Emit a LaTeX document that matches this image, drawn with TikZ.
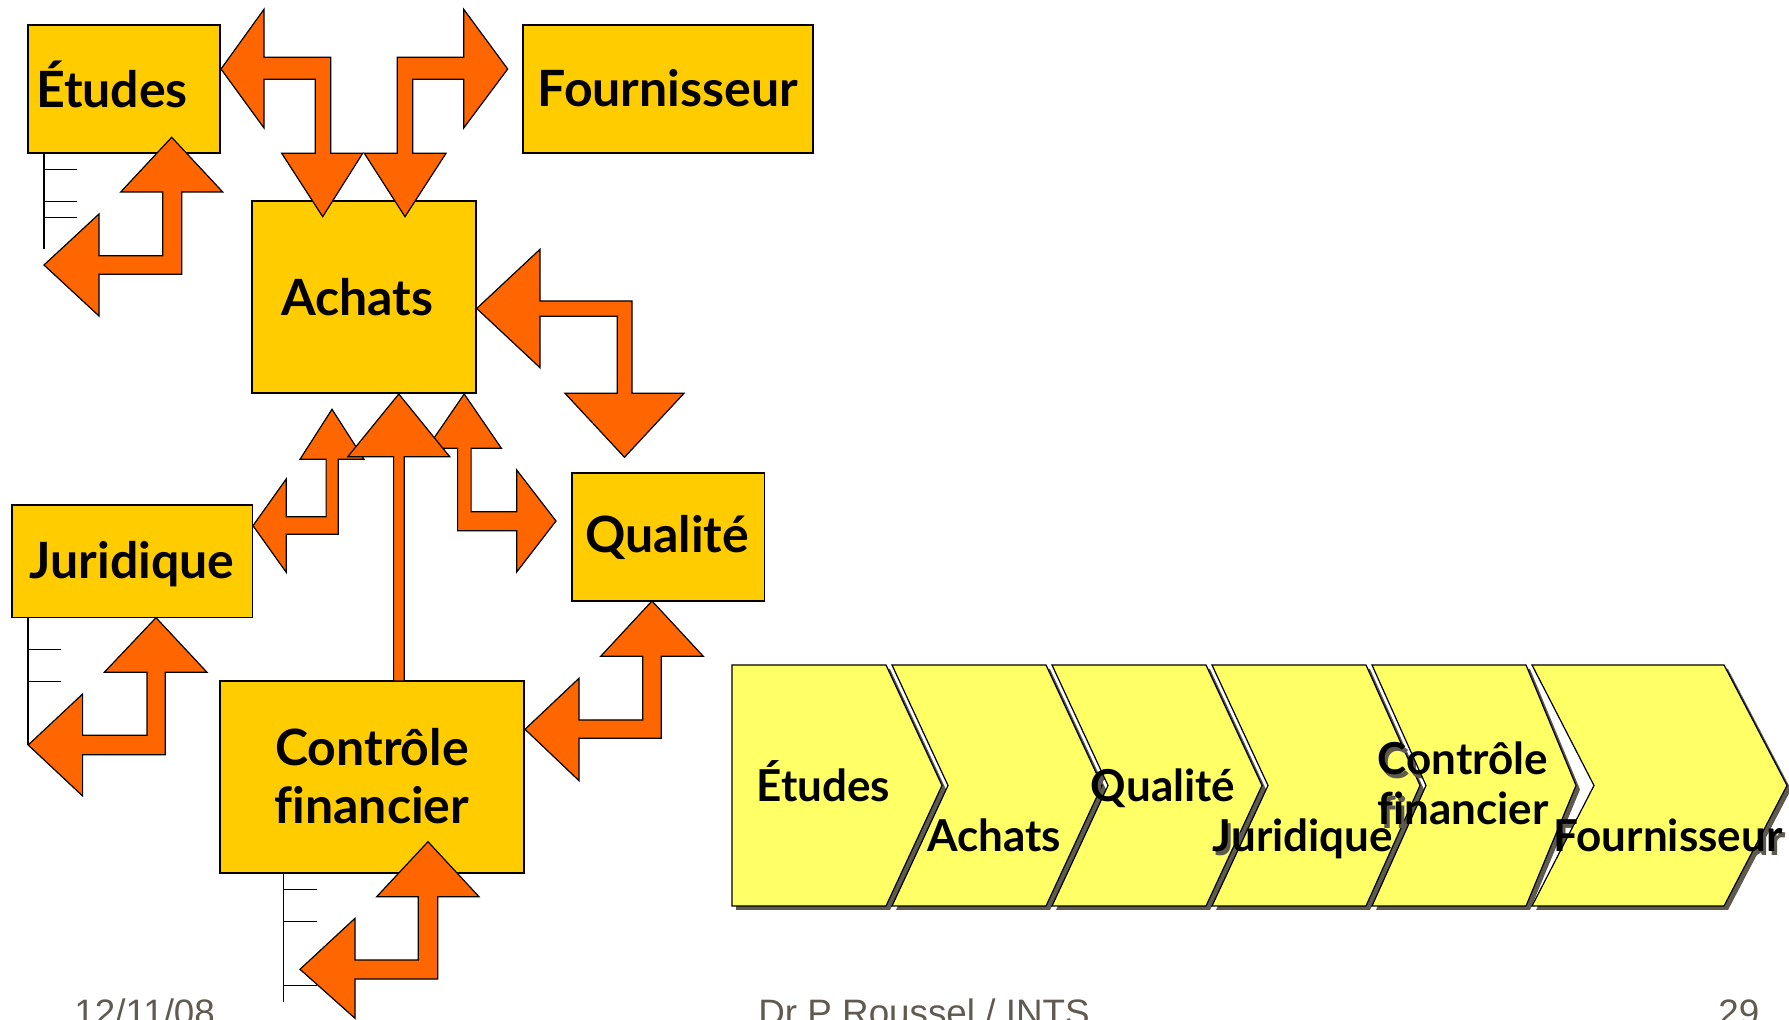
\documentclass[tikz,border=0pt]{standalone}
\usepackage{fontspec}
\setmainfont{Lato}[Ligatures=CommonOff]
\newfontfamily\footfont{Liberation Sans}
\definecolor{boxgold}{HTML}{FFCC00}
\definecolor{arroworange}{HTML}{FF6600}
\definecolor{chevyellow}{HTML}{FFFF66}
\definecolor{shadowgray}{HTML}{5F5A50}
\definecolor{footgray}{HTML}{605A50}

\begin{document}
\begin{tikzpicture}[x=0.5pt, y=-0.5pt,
    unit/.style={draw=black, fill=boxgold, line width=0.8pt},
    flow/.style={draw=black, fill=arroworange, line width=0.6pt, line join=miter},
    tree/.style={draw=black, line width=0.7pt},
    lbl/.style={font=\bfseries\fontsize{25}{29}\selectfont, inner sep=0pt, anchor=base, align=center},
    chev/.style={draw=black, fill=chevyellow, line width=0.6pt},
    clbl/.style={font=\bfseries\fontsize{22}{25}\selectfont, inner sep=0pt, anchor=base, align=center},
    foot/.style={font=\footfont\fontsize{18.4}{22}\selectfont, text=footgray, inner sep=0pt, anchor=base west}]

    % Page frame
    \clip (0,0) rectangle (1789,1020);

    % Sub-item trees under the services
    \draw[tree] (44,153) -- (44,249);
    \foreach \t in {169.3, 201.3, 217.3} \draw[tree] (44,\t) -- (76.7,\t);
    \draw[tree] (28,617.7) -- (28,745);
    \foreach \t in {649.3, 681.3} \draw[tree] (28,\t) -- (60.7,\t);
    \draw[tree] (283.7,873.3) -- (283.7,1001.7);
    \foreach \t in {889.3, 921.3, 985.3} \draw[tree] (283.7,\t) -- (316.7,\t);

    % The services
    \draw[unit] (27.7,25) rectangle (220,153);
    \node[lbl] (etudes) at (112,108) {Études};
    \draw[unit] (523,25) rectangle (813,153);
    \node[lbl] (fournisseur) at (668,107) {Fournisseur};
    \draw[unit] (252,201) rectangle (476,393);
    \node[lbl] (achats) at (357,316) {Achats};
    \draw[unit] (12,505.3) rectangle (252.4,617.7);
    \node[lbl] (juridique) at (132,579) {Juridique};
    \draw[unit] (571.7,473.3) rectangle (764.3,601);
    \node[lbl] (qualite) at (667,553) {Qualité};
    \draw[unit] (219.7,681.3) rectangle (524,873.3);
    \node[lbl] (controle) at (372,824) {Contrôle\\financier};

    % Etudes <-> Achats
    \draw[flow] (221,69) -- (264,9.3) -- (264,57.3) -- (330.7,57.3) -- (330.7,153.3) -- (362.7,153.3)
        -- (322.7,216.7) -- (281.7,153.3) -- (315.3,153.3) -- (315.3,79.3) -- (264,79.3) -- (264,128) -- cycle;
    % Achats <-> Fournisseur
    \draw[flow] (405,216.7) -- (364.3,153.3) -- (397.3,153.3) -- (397.3,57.3) -- (463.7,57.3) -- (463.7,9.3)
        -- (507.7,69) -- (463.7,128) -- (463.7,79.3) -- (412.7,79.3) -- (412.7,153.3) -- (446,153.3) -- cycle;
    % Etudes loop
    \draw[flow] (171.7,137.3) -- (222.7,192) -- (181.7,192) -- (181.7,274.3) -- (99,274.3) -- (99,316)
        -- (44,265) -- (99,214) -- (99,255.7) -- (162.7,255.7) -- (162.7,192) -- (120.7,192) -- cycle;
    % Achats <-> Qualite (upper)
    \draw[flow] (476.7,308.5) -- (540,249.3) -- (540,301) -- (632,301) -- (632,393.3) -- (684,393.3)
        -- (624.5,457.3) -- (565,393.3) -- (617.3,393.3) -- (617.3,316.3) -- (540,316.3) -- (540,367.7) -- cycle;
    % Juridique <-> Achats
    \draw[flow] (332,409.3) -- (364,459.3) -- (338.2,459.3) -- (338.2,534.3) -- (286.2,534.3) -- (286.2,572.3)
        -- (253,525.7) -- (286.2,479) -- (286.2,516.7) -- (326.1,516.7) -- (326.1,459.3) -- (300,459.3) -- cycle;
    % Achats <-> Qualite (lower)
    \draw[flow] (464.2,394) -- (501.4,448.3) -- (471.1,448.3) -- (471.1,511.7) -- (516.7,511.7) -- (516.7,470)
        -- (556,521) -- (516.7,572) -- (516.7,530.7) -- (457.6,530.7) -- (457.6,448.3) -- (427,448.3) -- cycle;
    % Controle financier -> Achats
    \draw[flow] (398.8,394) -- (449.7,456.7) -- (404.3,456.7) -- (404.3,681) -- (393.6,681) -- (393.6,456.7)
        -- (347.8,456.7) -- cycle;
    % Juridique loop
    \draw[flow] (156,617.7) -- (207,672.3) -- (165.3,672.3) -- (165.3,754.7) -- (82.6,754.7) -- (82.6,796)
        -- (28.2,745) -- (82.6,694) -- (82.6,735.3) -- (147,735.3) -- (147,672.3) -- (104.3,672.3) -- cycle;
    % Qualite <-> Controle financier
    \draw[flow] (652,601) -- (703.3,656.3) -- (661.3,656.3) -- (661.3,738.3) -- (579,738.3) -- (579,780.7)
        -- (525,729.3) -- (579,678.3) -- (579,720) -- (642.7,720) -- (642.7,656.3) -- (600.7,656.3) -- cycle;
    % Controle financier loop
    \draw[flow] (428,841.7) -- (479,896.7) -- (437.7,896.7) -- (437.7,979) -- (355,979) -- (355,1018.3)
        -- (300,969.3) -- (355,918.3) -- (355,960) -- (418.3,960) -- (418.3,896.7) -- (376.7,896.7) -- cycle;

    % Chain of chevrons
    \foreach \x/\w/\d/\n/\tx/\ty/\txt in {
        732/154/56/0/823.5/802/Études,
        892/154/56/56/994/852/Achats,
        1052/154/56/56/1163/802/Qualité,
        1212/154/54/56/1303/852/Juridique,
        1372/154/50/54/1463/825/{Contrôle\\financier},
        1532/192/63/62/1668/852/Fournisseur}
    {
        \fill[shadowgray, shift={(4,4)}] (\x,665) -- ++(\w,0) -- ++(\d,120.5) -- ++(-\d,120.5)
            -- ++(-\w,0) -- ++(\n,-120.5) -- cycle;
        \node[clbl, text=shadowgray] (s\x) at (\tx+3,\ty+4) {\txt};
        \draw[chev] (\x,665) -- ++(\w,0) -- ++(\d,120.5) -- ++(-\d,120.5)
            -- ++(-\w,0) -- ++(\n,-120.5) -- cycle;
        \node[clbl] (c\x) at (\tx,\ty) {\txt};
    }

    % Footer
    \node[foot] (date) at (74,1025.6) {12/11/08};
    \node[foot] (author) at (758,1025.6) {Dr P Roussel / INTS};
    \node[foot] (page) at (1718,1025.6) {29};
\end{tikzpicture}
\end{document}
